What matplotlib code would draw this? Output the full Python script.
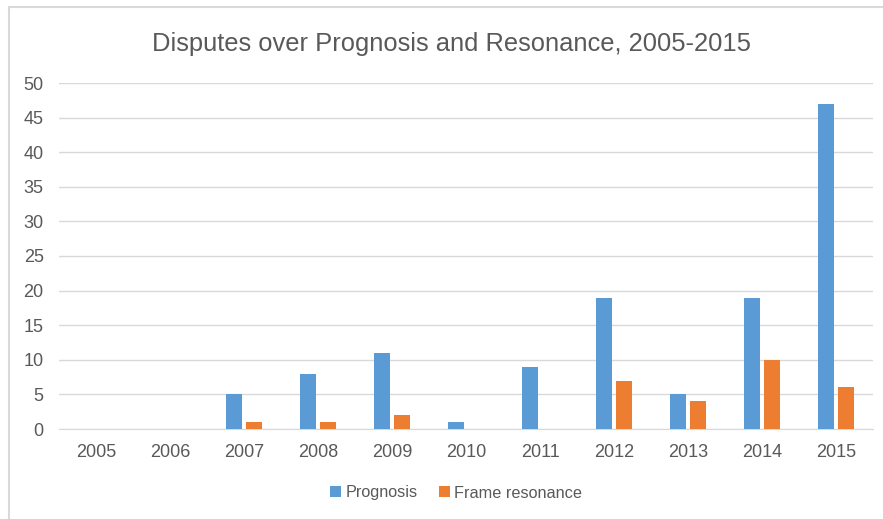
import numpy as np
import matplotlib
matplotlib.use("Agg")
import matplotlib.pyplot as plt
from matplotlib.patches import Rectangle

# data
years = ['2005', '2006', '2007', '2008', '2009', '2010', '2011', '2012', '2013', '2014', '2015']
prognosis = [0, 0, 5, 8, 11, 1, 9, 19, 5, 19, 47]
frame_resonance = [0, 0, 1, 1, 2, 0, 0, 7, 4, 10, 6]

blue = '#5B9BD5'
orange = '#ED7D31'
txt = '#595959'
grid = '#D9D9D9'

plt.rcParams['font.family'] = ['Liberation Sans', 'DejaVu Sans']

fig = plt.figure(figsize=(8.83, 5.19), dpi=100)
ax = fig.add_axes([59 / 883, 1 - 429 / 519, (873 - 59) / 883, (429 - 83) / 519])

# chart border (cut off on right/bottom like the screenshot)
fig.patches.append(Rectangle((9 / 883, -0.05), 1.1, 1 - 7 / 519 + 0.05, transform=fig.transFigure,
                             fill=False, edgecolor=grid, linewidth=1.5))

x = np.arange(len(years))
w = 0.223
off = 0.137
ax.bar(x - off, prognosis, w, color=blue, label='Prognosis', zorder=3)
ax.bar(x + off, frame_resonance, w, color=orange, label='Frame resonance', zorder=3)

ax.set_xlim(-0.5, len(years) - 0.5)
ax.set_ylim(0, 50)
ax.set_yticks(range(0, 51, 5))
ax.set_xticks(x)
ax.set_xticklabels(years)
ax.yaxis.grid(True, color=grid, linewidth=1, zorder=0)
ax.set_axisbelow(True)
for s in ['top', 'right', 'left']:
    ax.spines[s].set_visible(False)
ax.spines['bottom'].set_color(grid)
ax.tick_params(axis='both', length=0, labelsize=13, colors=txt)
ax.tick_params(axis='x', pad=11)
ax.tick_params(axis='y', pad=11)

fig.text(451 / 883, 1 - 44 / 519, 'Disputes over Prognosis and Resonance, 2005-2015',
         ha='center', va='center', fontsize=18.4, color=txt)

ax.legend(loc='center', bbox_to_anchor=(456 / 883, 1 - 493 / 519), bbox_transform=fig.transFigure,
          ncol=2, frameon=False, fontsize=11.7, labelcolor=txt, handlelength=0.68, handleheight=0.68,
          handletextpad=0.25, columnspacing=1.3, borderpad=0)

fig.savefig('out.png', dpi=100)
